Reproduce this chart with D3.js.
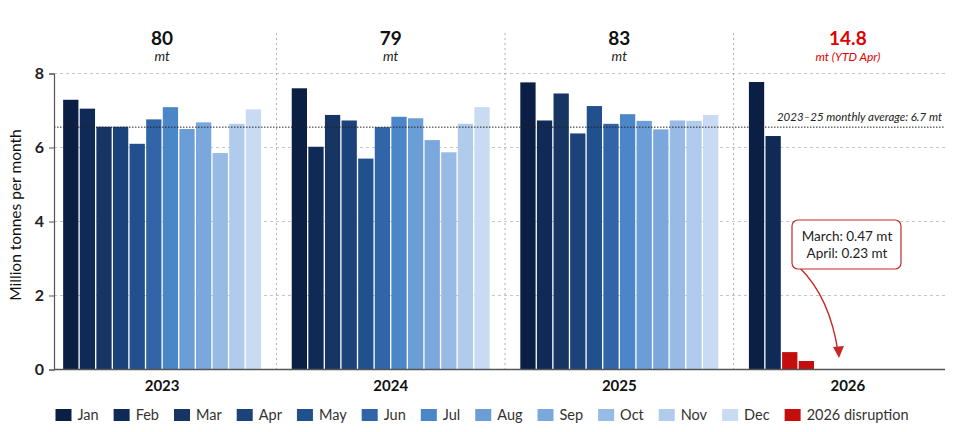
<!DOCTYPE html>
<html lang="en">
<head>
<meta charset="utf-8">
<title>Monthly volumes 2023-2026</title>
<script src="https://cdn.jsdelivr.net/npm/d3@7"></script>
<style>
body { margin: 0; background: #fff; }
svg { font-family: Lato, "Open Sans", sans-serif; }
</style>
</head>
<body>
<script>
// ---- data ----
var years = ["2023", "2024", "2025", "2026"];
var months = ["Jan", "Feb", "Mar", "Apr", "May", "Jun", "Jul", "Aug", "Sep", "Oct", "Nov", "Dec"];
var values2023 = [7.29, 7.05, 6.56, 6.56, 6.10, 6.76, 7.09, 6.50, 6.68, 5.85, 6.64, 7.03];
var values2024 = [7.60, 6.02, 6.88, 6.73, 5.70, 6.55, 6.83, 6.79, 6.20, 5.87, 6.64, 7.09];
var values2025 = [7.76, 6.73, 7.46, 6.38, 7.12, 6.64, 6.90, 6.72, 6.49, 6.73, 6.72, 6.88];
var values2026 = [7.77, 6.31, 0.47, 0.23];
var disrupted2026 = ["Mar", "Apr"];
var yearTotals = ["80", "79", "83", "14.8"];
var yearUnits = ["mt", "mt", "mt", "mt (YTD Apr)"];
var avgValue = 6.55;
var avgLabel = "2023\u201325 monthly average: 6.7 mt";
var noteLines = ["March: 0.47 mt", "April: 0.23 mt"];
var yTicks = [0, 2, 4, 6, 8];
var monthColors = ["#0b1f45", "#0f2a57", "#163563", "#1b427a", "#21508c", "#3264a8",
                   "#4a86c8", "#6b9ed6", "#7aa8dc", "#97bbe4", "#b0cbeb", "#c8dbf2"];
var disruptionColor = "#c40d0d";
var disruptionName = "2026 disruption";

var seriesByYear = [values2023, values2024, values2025, values2026];

// ---- layout ----
var width = 960, height = 432;
var plotLeft = 54, plotRight = 945, plotTop = 73.5, plotBottom = 369.5;

var svg = d3.select("body").append("svg")
    .attr("width", width)
    .attr("height", height);

var x = d3.scaleBand().domain(years).range([plotLeft, 956]).paddingInner(0.134).paddingOuter(0.04);
var xm = d3.scaleBand().domain(months).range([0, x.bandwidth()]).paddingInner(0.08);
var y = d3.scaleLinear().domain([0, 8]).range([plotBottom, plotTop]);

// gridlines
svg.append("g").selectAll("line")
    .data(yTicks.filter(d => d > 0))
    .join("line")
    .attr("x1", plotLeft).attr("x2", plotRight)
    .attr("y1", d => y(d)).attr("y2", d => y(d))
    .attr("stroke", "#b8b8b8")
    .attr("stroke-width", 0.8)
    .attr("stroke-dasharray", "3,3");

// year dividers
var step = x.step();
svg.append("g").selectAll("line")
    .data(years.slice(1))
    .join("line")
    .attr("x1", d => x(d) - (step - x.bandwidth()) / 2)
    .attr("x2", d => x(d) - (step - x.bandwidth()) / 2)
    .attr("y1", 33).attr("y2", plotBottom)
    .attr("stroke", "#9a9a9a")
    .attr("stroke-width", 0.8)
    .attr("stroke-dasharray", "2,3");

// bars
var barData = [];
seriesByYear.forEach(function(vals, i) {
    vals.forEach(function(v, j) {
        var yr = years[i], m = months[j];
        barData.push({
            year: yr, month: m, value: v,
            disrupted: yr === "2026" && disrupted2026.indexOf(m) >= 0
        });
    });
});

svg.append("g").selectAll("rect")
    .data(barData)
    .join("rect")
    .attr("x", d => x(d.year) + xm(d.month))
    .attr("width", xm.bandwidth())
    .attr("y", d => y(d.value))
    .attr("height", d => y(0) - y(d.value))
    .attr("fill", d => d.disrupted ? disruptionColor : monthColors[months.indexOf(d.month)]);

// average line
svg.append("line")
    .attr("x1", plotLeft).attr("x2", plotRight)
    .attr("y1", y(avgValue)).attr("y2", y(avgValue))
    .attr("stroke", "#222")
    .attr("stroke-width", 1)
    .attr("stroke-dasharray", "1.5,1.5");

svg.append("text")
    .attr("x", 942).attr("y", y(avgValue) - 6)
    .attr("text-anchor", "end")
    .attr("font-size", 11.5)
    .attr("font-style", "italic")
    .attr("fill", "#222")
    .text(avgLabel);

// y axis
var yAxis = d3.axisLeft(y).tickValues(yTicks).tickSize(5).tickPadding(5);
var ya = svg.append("g").attr("transform", "translate(" + plotLeft + ",0)").call(yAxis);
ya.select(".domain").attr("stroke", "#555").attr("stroke-width", 1.2);
ya.selectAll(".tick line").attr("stroke", "#555");
ya.selectAll(".tick text")
    .attr("font-family", "Lato, sans-serif")
    .attr("font-size", 16)
    .attr("font-weight", 700)
    .attr("fill", "#222");

// x baseline
svg.append("line")
    .attr("x1", plotLeft).attr("x2", plotRight)
    .attr("y1", plotBottom).attr("y2", plotBottom)
    .attr("stroke", "#555")
    .attr("stroke-width", 1.5);

// year labels
svg.append("g").selectAll("text")
    .data(years)
    .join("text")
    .attr("x", d => x(d) + x.bandwidth() / 2)
    .attr("y", 391)
    .attr("text-anchor", "middle")
    .attr("font-size", 15)
    .attr("font-weight", 700)
    .attr("fill", "#111")
    .text(d => d);

// totals
svg.append("g").selectAll("text")
    .data(years)
    .join("text")
    .attr("x", d => x(d) + x.bandwidth() / 2)
    .attr("y", 45)
    .attr("text-anchor", "middle")
    .attr("font-size", 19)
    .attr("font-weight", 700)
    .attr("fill", (d, i) => i === 3 ? "#e00000" : "#111")
    .text((d, i) => yearTotals[i]);

svg.append("g").selectAll("text")
    .data(years)
    .join("text")
    .attr("x", d => x(d) + x.bandwidth() / 2)
    .attr("y", 61)
    .attr("text-anchor", "middle")
    .attr("font-size", (d, i) => i === 3 ? 12 : 13.5)
    .attr("font-style", "italic")
    .attr("fill", (d, i) => i === 3 ? "#e00000" : "#222")
    .text((d, i) => yearUnits[i]);

// y title
svg.append("text")
    .attr("transform", "translate(21,215) rotate(-90)")
    .attr("text-anchor", "middle")
    .attr("font-size", 15.5)
    .attr("fill", "#111")
    .text("Million tonnes per month");

// annotation
var note = svg.append("g");
note.append("path")
    .attr("d", "M800,268 Q830,298 838,352")
    .attr("fill", "none")
    .attr("stroke", "#c62828")
    .attr("stroke-width", 1.4);
note.append("path")
    .attr("d", "M833,347 L839,358 L844,346 Z")
    .attr("fill", "#c62828");
note.append("rect")
    .attr("x", 792).attr("y", 220)
    .attr("width", 109).attr("height", 49)
    .attr("rx", 6)
    .attr("fill", "#fff")
    .attr("stroke", "#c62828")
    .attr("stroke-width", 1.2);
note.selectAll("text.n")
    .data(noteLines)
    .join("text")
    .attr("class", "n")
    .attr("x", 847)
    .attr("y", (d, i) => 241 + i * 17)
    .attr("text-anchor", "middle")
    .attr("font-size", 13.5)
    .attr("fill", "#222")
    .text(d => d);

// legend
var legendItems = months.map((m, i) => ({ name: m, color: monthColors[i] }));
legendItems.push({ name: disruptionName, color: disruptionColor });

var legend = svg.append("g");
var items = legend.selectAll("g")
    .data(legendItems)
    .join("g");
items.append("rect")
    .attr("width", 16).attr("height", 12)
    .attr("y", -11)
    .attr("fill", d => d.color);
items.append("text")
    .attr("x", 22)
    .attr("font-size", 14.5)
    .attr("fill", "#333")
    .text(d => d.name);

var pos = 0, gap = 15, offsets = [];
items.each(function(d) {
    offsets.push(pos);
    pos += 22 + this.querySelector("text").getComputedTextLength() + gap;
});
var total = pos - gap;
var start = 482 - total / 2;
items.attr("transform", (d, i) => "translate(" + (start + offsets[i]) + ",420)");
</script>
</body>
</html>
